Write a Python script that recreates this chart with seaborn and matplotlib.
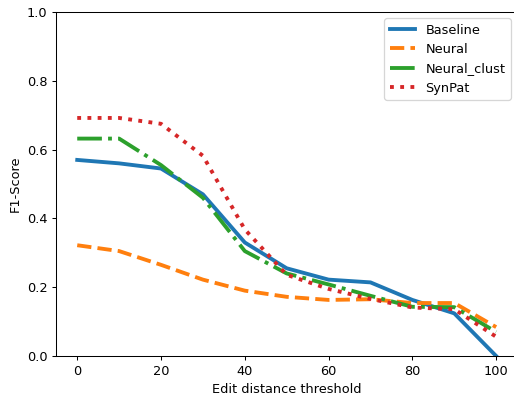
import matplotlib
matplotlib.use("Agg")
import matplotlib.pyplot as plt
import seaborn as sns

# --- Data ---
thresholds = [0, 10, 20, 30, 40, 50, 60, 70, 80, 90, 100]
baseline = [0.57, 0.56, 0.545, 0.47, 0.33, 0.255, 0.222, 0.214, 0.163, 0.124, 0.0]
neural = [0.322, 0.305, 0.265, 0.222, 0.19, 0.172, 0.163, 0.165, 0.154, 0.154, 0.084]
neural_clust = [0.632, 0.632, 0.555, 0.46, 0.305, 0.24, 0.208, 0.175, 0.143, 0.142, 0.07]
synpat = [0.692, 0.692, 0.675, 0.582, 0.368, 0.236, 0.195, 0.166, 0.141, 0.136, 0.056]

series = [
    ("Baseline", baseline, "-", "#1f77b4"),
    ("Neural", neural, "--", "#ff7f0e"),
    ("Neural_clust", neural_clust, "-.", "#2ca02c"),
    ("SynPat", synpat, ":", "#d62728"),
]

# reference looks like a slightly downscaled render, so use a lower dpi
dpi = 92.5
fig, ax = plt.subplots(figsize=(514 / dpi, 400 / dpi), dpi=dpi)

for name, vals, ls, col in series:
    sns.lineplot(x=thresholds, y=vals, ax=ax, label=name, linestyle=ls,
                 color=col, linewidth=3)

ax.set_ylim(0, 1.0)
ax.set_xlabel("Edit distance threshold")
ax.set_ylabel("F1-Score")
ax.legend(loc="upper right")

# right spine sits just outside the picture, as in the reference crop
plt.subplots_adjust(left=0.1095, right=1.006, top=0.97, bottom=0.11)
ax.spines["right"].set_visible(False)
plt.savefig("out.png", dpi=dpi)
